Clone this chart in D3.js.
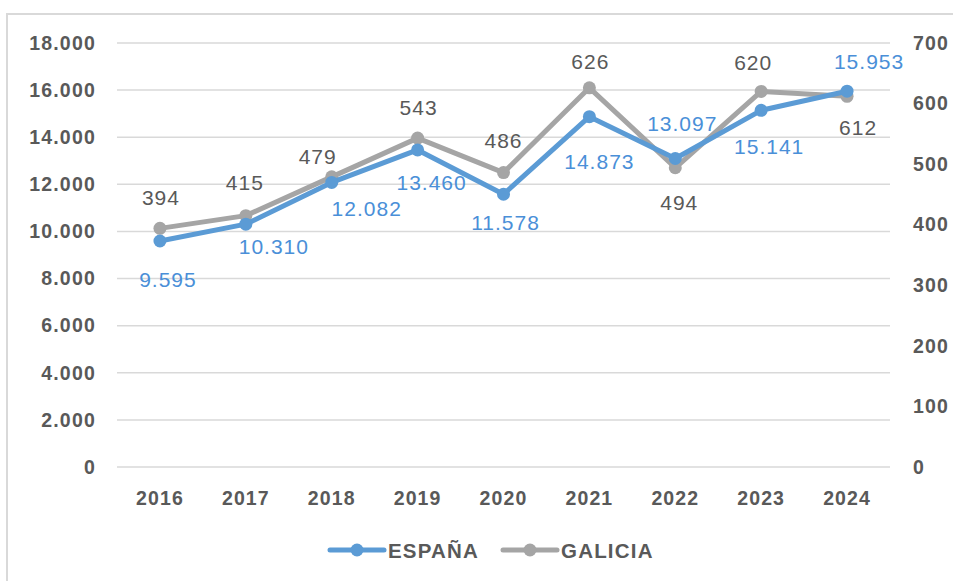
<!DOCTYPE html>
<html><head><meta charset="utf-8">
<script src="https://cdn.jsdelivr.net/npm/d3@7"></script>
<style>body{margin:0;background:#fff}svg{display:block}text{font-family:"Liberation Sans",Arial,sans-serif}</style>
</head><body><svg id="c" width="953" height="581"></svg>
<script>
const years = ["2016","2017","2018","2019","2020","2021","2022","2023","2024"];
const espana = [9595,10310,12082,13460,11578,14873,13097,15141,15953];
const galicia = [394,415,479,543,486,626,494,620,612];
const leftTicks = [0,2000,4000,6000,8000,10000,12000,14000,16000,18000];
const rightTicks = [0,100,200,300,400,500,600,700];
const seriesNames = ["ESPAÑA","GALICIA"];

// label nudges (styling)
const espDx = [8,28,35,14,2,10,7,8,22];
const espDy = [39,22,26,33,28,45,-35,36,-30];
const galDx = [1,-1,-14,1,0,1,4,-8,11];
const galDy = [-31,-33,-20,-31,-32,-26,35,-29,31];

const blue = "#5B9BD5", gray = "#A5A5A5", txt = "#595959", blueTxt = "#4A8FD8";
const svg = d3.select("#c");
svg.append("rect").attr("x",7).attr("y",14).attr("width",980).attr("height",620)
  .attr("fill","none").attr("stroke","#d9d9d9").attr("stroke-width",2);

const x = d3.scaleBand().domain(years).range([117,890]);
const yL = d3.scaleLinear().domain([0,18000]).range([467,43]);
const yR = d3.scaleLinear().domain([0,700]).range([467,43]);
const fmt = d3.formatLocale({decimal:",",thousands:".",grouping:[3],currency:["",""]}).format(",d");

svg.append("g").selectAll("line").data(leftTicks).join("line")
  .attr("x1",117).attr("x2",890).attr("y1",d=>yL(d)).attr("y2",d=>yL(d))
  .attr("stroke","#d9d9d9").attr("stroke-width",1.5);

const ga = svg.append("g").attr("transform","translate(117,0)")
  .call(d3.axisLeft(yL).tickValues(leftTicks).tickFormat(fmt).tickSize(0).tickPadding(21));
ga.select(".domain").remove();
ga.selectAll("text").attr("fill",txt).attr("font-size",19.5).attr("font-weight","bold").attr("letter-spacing",1.2);

const gr = svg.append("g").attr("transform","translate(890,0)")
  .call(d3.axisRight(yR).tickValues(rightTicks).tickSize(0).tickPadding(23));
gr.select(".domain").remove();
gr.selectAll("text").attr("fill",txt).attr("font-size",19.5).attr("font-weight","bold").attr("letter-spacing",1.2);

const gx = svg.append("g").attr("transform","translate(0,467)")
  .call(d3.axisBottom(x).tickSize(0).tickPadding(24));
gx.select(".domain").remove();
gx.selectAll("text").attr("fill",txt).attr("font-size",19.5).attr("font-weight","bold").attr("letter-spacing",1.1);

function drawSeries(vals, y, color){
  svg.append("path").datum(vals)
    .attr("d", d3.line().x((d,i)=>x(years[i])+x.bandwidth()/2).y(d=>y(d)))
    .attr("fill","none").attr("stroke",color).attr("stroke-width",5).attr("stroke-linejoin","round").attr("stroke-linecap","round");
  svg.append("g").selectAll("circle").data(vals).join("circle")
    .attr("cx",(d,i)=>x(years[i])+x.bandwidth()/2).attr("cy",d=>y(d)).attr("r",6.5).attr("fill",color);
}
drawSeries(galicia, yR, gray);
drawSeries(espana, yL, blue);

svg.append("g").selectAll("text").data(galicia).join("text")
  .attr("x",(d,i)=>x(years[i])+x.bandwidth()/2+galDx[i]).attr("y",(d,i)=>yR(d)+galDy[i])
  .attr("text-anchor","middle").attr("dominant-baseline","central").attr("letter-spacing",1)
  .attr("fill",txt).attr("font-size",21).text(d=>fmt(d));
svg.append("g").selectAll("text").data(espana).join("text")
  .attr("x",(d,i)=>x(years[i])+x.bandwidth()/2+espDx[i]).attr("y",(d,i)=>yL(d)+espDy[i])
  .attr("text-anchor","middle").attr("dominant-baseline","central").attr("letter-spacing",1)
  .attr("fill",blueTxt).attr("font-size",21).text(d=>fmt(d));

const leg = [{name:seriesNames[0],color:blue,x:330},{name:seriesNames[1],color:gray,x:503}];
const lg = svg.append("g").selectAll("g").data(leg).join("g").attr("transform",d=>`translate(${d.x},550)`);
lg.append("line").attr("x1",0).attr("x2",54).attr("stroke",d=>d.color).attr("stroke-width",5).attr("stroke-linecap","round");
lg.append("circle").attr("cx",27).attr("r",6.5).attr("fill",d=>d.color);
lg.append("text").attr("x",58).attr("dominant-baseline","central").attr("fill",txt).attr("letter-spacing",1.2)
  .attr("font-size",20.5).attr("font-weight","bold").text(d=>d.name);
</script></body></html>
